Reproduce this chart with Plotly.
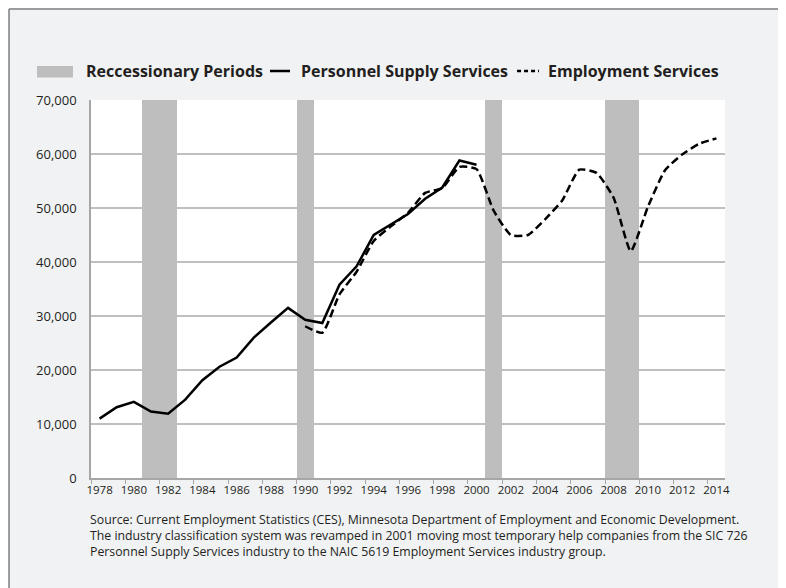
import plotly.graph_objects as go

years = list(range(1978, 2015))

# Personnel Supply Services (SIC 736), 1978-2000
personnel_years = list(range(1978, 2001))
personnel = [
    11000, 13100, 14100, 12300, 11900, 14500, 18100, 20600, 22300, 26000,
    28800, 31500, 29300, 28700, 35800, 39200, 45000, 47000, 48900, 51700,
    53800, 58800, 58000,
]

# Employment Services (NAICS 5619), 1990-2014
employment_years = list(range(1990, 2015))
employment = [
    28100, 26900, 34000, 38200, 43900, 46600, 49100, 52800, 53700, 57600,
    57200, 49500, 45000, 45000, 47900, 51400, 57100, 56500, 51900, 42000,
    50200, 57000, 59900, 61900, 62900,
]

recession_start = [1980.5, 1989.5, 2000.5, 2007.5]
recession_end = [1982.5, 1990.5, 2001.5, 2009.5]

tick_years = list(range(1978, 2015, 2))

source_lines = [
    "Source: Current Employment Statistics (CES), Minnesota Department of Employment and Economic Development.",
    "The industry classification system was revamped in 2001 moving most temporary help companies from the SIC 726",
    "Personnel Supply Services industry to the NAIC 5619 Employment Services industry group.",
]

FONT = "Open Sans"
TEXT = "#231f20"
BAND = "#bebebe"
BG = "#f1f2f4"

fig = go.Figure()

# recession bands as full-height bars (sit above the grid, below the lines)
fig.add_bar(
    x=[(a + b) / 2 for a, b in zip(recession_start, recession_end)],
    y=[70000] * len(recession_start),
    width=[b - a for a, b in zip(recession_start, recession_end)],
    marker=dict(color=BAND, line_width=0),
    name="Reccessionary Periods",
    hoverinfo="skip",
)
fig.add_scatter(
    x=personnel_years,
    y=personnel,
    name="Personnel Supply Services",
    mode="lines",
    line=dict(color="black", width=2.5),
)
fig.add_scatter(
    x=employment_years,
    y=employment,
    name="Employment Services",
    mode="lines",
    line=dict(color="black", width=2.5, dash="8px,4px", shape="spline", smoothing=0.5),
)

# hand-built legend, laid out like the original
fig.add_shape(type="rect", xref="paper", yref="paper",
              x0=-0.0852, x1=-0.0284, y0=1.0595, y1=1.0899,
              fillcolor=BAND, line_width=0)
fig.add_shape(type="line", xref="paper", yref="paper",
              x0=0.2823, x1=0.3139, y0=1.0767, y1=1.0767,
              line=dict(color="black", width=2.5))
fig.add_shape(type="line", xref="paper", yref="paper",
              x0=0.672, x1=0.7066, y0=1.0767, y1=1.0767,
              line=dict(color="black", width=2.5, dash="4px,3px"))

legend_items = [
    (-0.011, "Reccessionary Periods"),
    (0.3273, "Personnel Supply Services"),
    (0.7184, "Employment Services"),
]
for x, label in legend_items:
    fig.add_annotation(
        x=x, y=1.0767, xref="paper", yref="paper",
        text="<b>" + label + "</b>", showarrow=False,
        xanchor="left", yanchor="middle",
        font=dict(family=FONT, size=16, color=TEXT),
    )

for i, line in enumerate(source_lines):
    fig.add_annotation(
        x=-0.0047, y=-0.1111 - i * 0.0415, xref="paper", yref="paper",
        text=line, showarrow=False,
        xanchor="left", yanchor="middle",
        font=dict(family=FONT, size=12.3, color=TEXT),
    )

# outer frame: only its top and left edges fall inside the page
fig.add_shape(type="line", xref="paper", yref="paper",
              x0=-0.1293, x1=-0.1293, y0=-0.4, y1=1.2407,
              line=dict(color="#7f7f7f", width=1.5))
fig.add_shape(type="line", xref="paper", yref="paper",
              x0=-0.1293, x1=1.3, y0=1.2407, y1=1.2407,
              line=dict(color="#7f7f7f", width=1.5))

fig.update_xaxes(
    range=[1977.5, 2014.5],
    tickmode="array",
    tickvals=tick_years,
    ticks="",
    showgrid=False,
    showline=True,
    linecolor="#a6a6a6",
    linewidth=1.5,
    automargin=False,
    tickfont=dict(family=FONT, size=11.5, color=TEXT),
    minor=dict(ticks="outside", ticklen=4, tickcolor="#a6a6a6", tick0=1977.5, dtick=2, showgrid=False),
)
fig.update_yaxes(
    range=[0, 70000],
    dtick=10000,
    tickformat=",",
    gridcolor="#bfbfbf",
    gridwidth=1.5,
    showline=True,
    linecolor="#a6a6a6",
    linewidth=1.5,
    zeroline=False,
    ticks="",
    automargin=False,
    ticklabelstandoff=10,
    tickfont=dict(family=FONT, size=13, color=TEXT),
)
fig.update_layout(
    width=778,
    height=580,
    margin=dict(l=83, r=61, t=92, b=110),
    paper_bgcolor=BG,
    plot_bgcolor="white",
    showlegend=False,
    bargap=0,
    font=dict(family=FONT, color=TEXT),
)

fig.write_html("out.html", post_script="document.body.style.overflow = 'hidden';")
